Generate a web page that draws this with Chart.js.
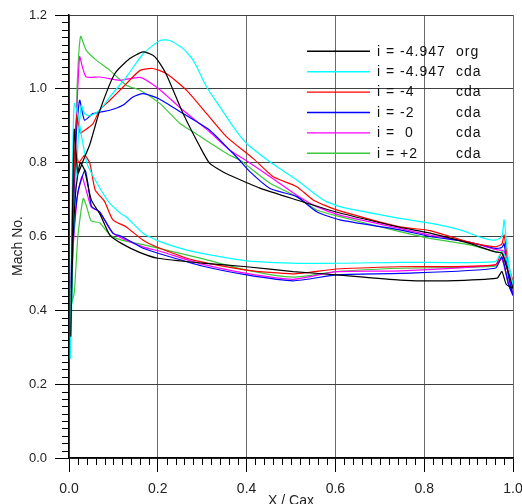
<!DOCTYPE html>
<html><head><meta charset="utf-8">
<script src="https://cdn.jsdelivr.net/npm/chart.js@4.4.1/dist/chart.umd.min.js"></script>
<style>html,body{margin:0;padding:0;background:#fff;}canvas{display:block;}</style>
</head><body>
<canvas id="c" width="522" height="504"></canvas>
<script>
// ---- series names / colours ----
const seriesLabels = ["i = -4.947 org", "i = -4.947 cda", "i = -4       cda", "i = -2       cda", "i =  0       cda", "i = +2       cda"];
const seriesColors = ["#000000", "#00ffff", "#ff0000", "#0000ff", "#ff00ff", "#3cc83c"];
const xTickLabels = ["0.0", "0.2", "0.4", "0.6", "0.8", "1.0"];
const yTickLabels = ["0.0", "0.2", "0.4", "0.6", "0.8", "1.0", "1.2"];
const xTitle = "X / Cax";
const yTitle = "Mach No.";

// ---- each loop: trailing edge -> suction side -> leading edge -> pressure side -> trailing edge ----
const orgX = [1.0,0.99,0.975,0.96,0.9,0.813,0.745,0.6,0.513,0.43,0.362,0.347,0.317,0.295,0.257,0.22,0.2,0.189,0.167,0.137,0.103,0.069,0.047,0.03,0.02,0.012,0.007,0.004,
              0.008,0.015,0.025,0.035,0.05,0.07,0.092,0.12,0.159,0.2,0.3,0.4,0.505,0.603,0.746,0.85,0.964,0.975,0.985,1.0];
const orgY = [0.46,0.50,0.555,0.558,0.582,0.609,0.625,0.667,0.699,0.731,0.766,0.775,0.798,0.843,0.933,1.037,1.077,1.091,1.10,1.082,1.041,0.94,0.85,0.80,0.771,0.89,0.60,0.33,
              0.55,0.72,0.80,0.78,0.70,0.66,0.604,0.58,0.557,0.541,0.528,0.518,0.505,0.496,0.482,0.480,0.487,0.505,0.47,0.46];

const cyanX = [1.0,0.99,0.98,0.975,0.96,0.93,0.881,0.813,0.745,0.61,0.573,0.513,0.453,0.4,0.37,0.34,0.31,0.28,0.257,0.227,0.205,0.167,0.129,0.092,0.069,0.047,0.035,0.028,0.02,0.01,0.003,
               0.008,0.012,0.02,0.03,0.04,0.047,0.059,0.075,0.092,0.119,0.129,0.167,0.205,0.28,0.4,0.528,0.746,0.96,0.975,0.985,1.0];
const cyanY = [0.47,0.53,0.645,0.60,0.59,0.597,0.618,0.636,0.649,0.681,0.699,0.753,0.802,0.852,0.897,0.951,1.005,1.077,1.109,1.131,1.131,1.095,1.032,0.978,0.942,0.927,0.933,0.955,0.85,0.60,0.27,
               0.80,0.96,0.93,0.86,0.80,0.78,0.753,0.72,0.69,0.66,0.653,0.609,0.586,0.559,0.534,0.527,0.530,0.532,0.56,0.54,0.47];

const redX = [1.0,0.99,0.98,0.975,0.96,0.896,0.813,0.745,0.603,0.55,0.513,0.46,0.415,0.355,0.31,0.265,0.22,0.189,0.16,0.122,0.092,0.069,0.054,0.032,0.025,0.018,0.012,0.005,
              0.008,0.015,0.022,0.035,0.047,0.059,0.08,0.099,0.129,0.167,0.205,0.28,0.4,0.505,0.603,0.746,0.96,0.975,0.99,1.0];
const redY = [0.48,0.52,0.604,0.58,0.572,0.586,0.616,0.626,0.672,0.699,0.735,0.762,0.811,0.870,0.933,0.996,1.041,1.055,1.05,1.005,0.969,0.942,0.906,0.885,0.88,0.93,0.80,0.40,
              0.70,0.83,0.80,0.82,0.798,0.726,0.695,0.645,0.626,0.590,0.568,0.536,0.509,0.499,0.512,0.518,0.523,0.56,0.50,0.48];

const blueX = [1.0,0.99,0.98,0.975,0.96,0.9,0.813,0.745,0.61,0.558,0.513,0.453,0.408,0.377,0.362,0.317,0.257,0.201,0.167,0.144,0.122,0.092,0.054,0.035,0.024,0.015,0.005,
               0.01,0.02,0.036,0.043,0.051,0.069,0.099,0.119,0.167,0.205,0.3,0.4,0.505,0.603,0.746,0.96,0.975,0.99,1.0];
const blueY = [0.44,0.49,0.581,0.57,0.568,0.585,0.60,0.618,0.645,0.667,0.708,0.730,0.775,0.816,0.834,0.888,0.933,0.974,0.987,0.978,0.956,0.942,0.933,0.915,0.969,0.85,0.44,
               0.60,0.72,0.78,0.74,0.681,0.667,0.609,0.60,0.568,0.553,0.52,0.496,0.480,0.496,0.50,0.514,0.545,0.47,0.44];

const magentaX = [1.0,0.99,0.98,0.96,0.9,0.813,0.745,0.61,0.558,0.513,0.453,0.392,0.362,0.317,0.257,0.201,0.16,0.115,0.069,0.039,0.03,0.024,0.018,0.008,0.003,
                  0.008,0.018,0.029,0.04,0.05,0.069,0.099,0.167,0.205,0.3,0.4,0.505,0.603,0.746,0.96,0.975,0.99,1.0];
const magentaY = [0.44,0.50,0.56,0.565,0.585,0.604,0.622,0.658,0.681,0.712,0.762,0.811,0.834,0.883,0.942,1.001,1.031,1.023,1.032,1.032,1.06,1.087,0.95,0.60,0.46,
                  0.55,0.70,0.762,0.72,0.68,0.667,0.609,0.572,0.56,0.525,0.50,0.484,0.505,0.507,0.523,0.54,0.47,0.44];

const greenX = [1.0,0.99,0.975,0.96,0.9,0.813,0.745,0.61,0.558,0.513,0.453,0.385,0.362,0.28,0.25,0.205,0.16,0.129,0.092,0.062,0.039,0.026,0.018,0.012,0.006,
                0.012,0.02,0.032,0.04,0.05,0.069,0.092,0.119,0.167,0.3,0.4,0.505,0.603,0.746,0.96,0.975,0.99,1.0];
const greenY = [0.45,0.50,0.555,0.559,0.578,0.595,0.613,0.654,0.672,0.708,0.744,0.807,0.820,0.883,0.906,0.960,0.996,1.01,1.050,1.077,1.104,1.142,0.996,0.70,0.42,
                0.45,0.60,0.703,0.68,0.642,0.637,0.604,0.59,0.578,0.54,0.509,0.49,0.505,0.514,0.52,0.54,0.47,0.45];

const seriesX = [orgX, cyanX, redX, blueX, magentaX, greenX];
const seriesY = [orgY, cyanY, redY, blueY, magentaY, greenY];

const FONT = '"Liberation Sans", Arial, sans-serif';

const datasets = seriesLabels.map((lab, i) => ({
  label: lab,
  data: seriesX[i].map((x, k) => ({ x: x, y: seriesY[i][k] })),
  borderColor: seriesColors[i],
  backgroundColor: seriesColors[i],
  borderWidth: 1.2,
  pointRadius: 0,
  showLine: true,
  fill: false,
  tension: 0.2
}));

const extras = {
  id: 'extras',
  afterDraw(chart) {
    const ctx = chart.ctx;
    const xs = chart.scales.x, ys = chart.scales.y;
    const area = chart.chartArea;
    ctx.save();
    // minor ticks
    ctx.strokeStyle = '#000';
    ctx.lineWidth = 1;
    ctx.beginPath();
    for (let k = 1; k < 60; k++) {
      if (k % 10 === 0) continue;
      const py = Math.round(ys.getPixelForValue(k * 0.02)) + 0.5;
      ctx.moveTo(area.left - 7, py); ctx.lineTo(area.left, py);
    }
    for (let k = 1; k < 50; k++) {
      if (k % 10 === 0) continue;
      const px = Math.round(xs.getPixelForValue(k * 0.02)) + 0.5;
      ctx.moveTo(px, area.bottom); ctx.lineTo(px, area.bottom + 7);
    }
    ctx.stroke();
    // axis titles
    ctx.fillStyle = '#222';
    ctx.font = '14px ' + FONT;
    ctx.textAlign = 'center';
    ctx.textBaseline = 'middle';
    ctx.fillText(xTitle, (area.left + area.right) / 2, 501);
    ctx.save();
    ctx.translate(18, 246);
    ctx.rotate(-Math.PI / 2);
    ctx.fillText(yTitle, 0, 0);
    ctx.restore();
    // legend (inside plot, no box)
    ctx.font = '14px ' + FONT;
    try { ctx.letterSpacing = '1px'; } catch (e) {}
    ctx.textAlign = 'left';
    chart.data.datasets.forEach((ds, i) => {
      const y = 51.3 + i * 20.4;
      ctx.strokeStyle = ds.borderColor;
      ctx.lineWidth = 1.4;
      ctx.beginPath();
      ctx.moveTo(307, y); ctx.lineTo(370, y);
      ctx.stroke();
      const m = ds.label.match(/^(.*?)\s+(\S+)$/);
      ctx.fillStyle = '#111';
      ctx.fillText(m[1], 377, y + 0.5);
      ctx.fillText(m[2], 456, y + 0.5);
    });
    ctx.restore();
  }
};

new Chart(document.getElementById('c').getContext('2d'), {
  type: 'scatter',
  data: { datasets: datasets },
  options: {
    responsive: false,
    animation: false,
    devicePixelRatio: 1,
    layout: { padding: { left: 0, right: 9, top: 15, bottom: 0 } },
    plugins: { legend: { display: false }, tooltip: { enabled: false } },
    scales: {
      x: {
        type: 'linear', min: 0, max: 1,
        ticks: { stepSize: 0.2, padding: 9, color: '#222', maxRotation: 0, autoSkip: false,
                 font: { family: FONT, size: 14 },
                 callback: (v) => xTickLabels[Math.round(v / 0.2)] },
        grid: { color: '#6a6a6a', tickColor: '#000', tickLength: 14, lineWidth: 1 },
        border: { color: '#000', width: 1.5 },
        afterFit: (s) => { s.height = 46; s.paddingLeft = 0; s.paddingRight = 0; }
      },
      y: {
        type: 'linear', min: 0, max: 1.2,
        ticks: { stepSize: 0.2, padding: 8, color: '#222',
                 font: { family: FONT, size: 13 },
                 callback: (v) => yTickLabels[Math.round(v / 0.2)] },
        grid: { color: '#404040', tickColor: '#000', tickLength: 14, lineWidth: 1 },
        border: { color: '#000', width: 1.5 },
        afterFit: (s) => { s.width = 69; s.paddingTop = 0; s.paddingBottom = 0; }
      }
    }
  },
  plugins: [extras]
});
</script>
</body></html>
